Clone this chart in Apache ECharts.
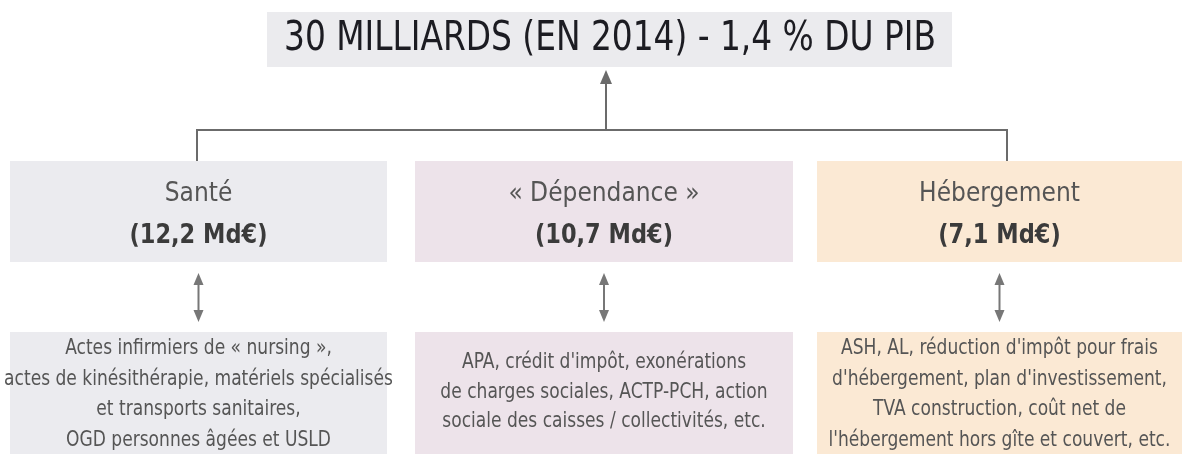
<!DOCTYPE html>
<html>
	<head>
		<meta charset="utf-8" />
		<title>Financement 30 milliards</title>
		<script type="text/javascript" src="https://cdn.jsdelivr.net/npm/echarts@6/dist/echarts.min.js"></script>
		<style>
			html, body { margin: 0; padding: 0; background: #fff; }
		</style>
	</head>
	<body>
		<div id="main" style="width: 1182px;height:454px;"></div>
		<script type="text/javascript">
		// données du schéma
		var titre = '30 MILLIARDS (EN 2014) - 1,4 % DU PIB';
		var postes = ['Santé', '« Dépendance »', 'Hébergement'];
		var montants = [12.2, 10.7, 7.1];
		var details = [
			['Actes infirmiers de « nursing »,', 'actes de kinésithérapie, matériels spécialisés', 'et transports sanitaires,', 'OGD personnes âgées et USLD'],
			['APA, crédit d\'impôt, exonérations', 'de charges sociales, ACTP-PCH, action', 'sociale des caisses / collectivités, etc.'],
			['ASH, AL, réduction d\'impôt pour frais', 'd\'hébergement, plan d\'investissement,', 'TVA construction, coût net de', 'l\'hébergement hors gîte et couvert, etc.']
		];

		var couleurs = ['#ebebef', '#ede3ea', '#fbe9d4'];
		var boites = [
			{ x: 10, w: 377, line: 197 },
			{ x: 415, w: 378, line: null },
			{ x: 817, w: 365, line: 1007 }
		];
		var font = '"DejaVu Sans Condensed", sans-serif';
		var trait = '#6b6b6b';

		function fmt(v) {
			return '(' + v.toFixed(1).replace('.', ',') + ' Md€)';
		}

		var els = [];
		// titre
		els.push({ type: 'rect', shape: { x: 267, y: 12, width: 685, height: 55 }, style: { fill: '#ebebee' } });
		els.push({ type: 'text', x: 610, y: 39, scaleY: 1.13, style: { text: titre, font: '36.5px ' + font, fill: '#1c1c22', align: 'center', verticalAlign: 'middle' } });
		// flèche vers le titre
		els.push({ type: 'line', shape: { x1: 606, y1: 131, x2: 606, y2: 80 }, style: { stroke: trait, lineWidth: 2 } });
		els.push({ type: 'polygon', shape: { points: [[606, 70], [600, 84], [612, 84]] }, style: { fill: trait } });
		// accolade horizontale
		els.push({ type: 'line', shape: { x1: 196, y1: 130, x2: 1008, y2: 130 }, style: { stroke: trait, lineWidth: 2 } });

		postes.forEach(function (nom, i) {
			var b = boites[i];
			var cx = b.x + b.w / 2;
			if (b.line !== null) {
				els.push({ type: 'line', shape: { x1: b.line, y1: 130, x2: b.line, y2: 161 }, style: { stroke: trait, lineWidth: 2 } });
			}
			els.push({ type: 'rect', shape: { x: b.x, y: 161, width: b.w, height: 101 }, style: { fill: couleurs[i] } });
			els.push({ type: 'text', x: cx, y: 194, scaleY: 1.05, style: { text: nom, font: '26px ' + font, fill: '#555', align: 'center', verticalAlign: 'middle' } });
			els.push({ type: 'text', x: cx, y: 236, scaleY: 1.05, style: { text: fmt(montants[i]), font: 'bold 25px ' + font, fill: '#3b3b3b', align: 'center', verticalAlign: 'middle' } });
			// double flèche
			els.push({ type: 'line', shape: { x1: cx, y1: 281, x2: cx, y2: 314 }, style: { stroke: '#777', lineWidth: 2 } });
			els.push({ type: 'polygon', shape: { points: [[cx, 273], [cx - 5, 285], [cx + 5, 285]] }, style: { fill: '#777' } });
			els.push({ type: 'polygon', shape: { points: [[cx, 322], [cx - 5, 310], [cx + 5, 310]] }, style: { fill: '#777' } });
			// boîte du détail
			els.push({ type: 'rect', shape: { x: b.x, y: 332, width: b.w, height: 130 }, style: { fill: couleurs[i] } });
			var lignes = details[i];
			var y0 = lignes.length === 3 ? 363 : 349;
			var pas = lignes.length === 3 ? 29.5 : 30.5;
			lignes.forEach(function (l, k) {
				els.push({ type: 'text', x: cx, y: y0 + k * pas, scaleY: 1.1, style: { text: l, font: '19px ' + font, fill: '#555', align: 'center', verticalAlign: 'middle' } });
			});
		});

		var myChart = echarts.init(document.getElementById('main'));
		myChart.setOption({
			animation: false,
			graphic: { elements: els }
		});
		</script>
	</body>
</html>
